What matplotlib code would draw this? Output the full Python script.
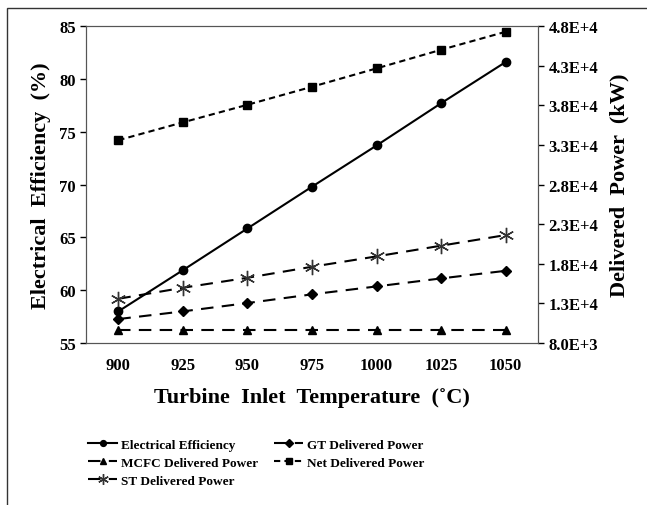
import matplotlib
matplotlib.use('Agg')
import matplotlib.pyplot as plt
from matplotlib.patches import Rectangle

# data
temperature = [900, 925, 950, 975, 1000, 1025, 1050]
electrical_efficiency = [58.0, 61.9, 65.85, 69.8, 73.7, 77.7, 81.6]
gt_power = [11030, 12000, 13050, 14150, 15150, 16160, 17120]
mcfc_power = [9650, 9650, 9650, 9650, 9650, 9650, 9650]
net_power = [33600, 35850, 38070, 40340, 42660, 45010, 47280]
st_power = [13590, 14980, 16240, 17630, 18940, 20290, 21630]

left_ticks = [55, 60, 65, 70, 75, 80, 85]
right_ticks = [8000, 13000, 18000, 23000, 28000, 33000, 38000, 43000, 48000]
right_labels = ['8.0E+3', '1.3E+4', '1.8E+4', '2.3E+4', '2.8E+4',
                '3.3E+4', '3.8E+4', '4.3E+4', '4.8E+4']

plt.rcParams['font.family'] = ['Liberation Serif', 'DejaVu Serif']
plt.rcParams['font.weight'] = 'bold'

fig = plt.figure(figsize=(6.47, 5.06), dpi=100)
ax = fig.add_axes([0.133, 0.320, 0.6985, 0.6265])
ax2 = ax.twinx()

long_dash = (0, (6, 4))
short_dash = (0, (3, 2))

ax.plot(temperature, electrical_efficiency, color='black', lw=1.5,
        marker='o', ms=6, label='Electrical Efficiency')
ax2.plot(temperature, gt_power, color='black', lw=1.5, linestyle=long_dash,
         marker='D', ms=5.5, label='GT Delivered Power')
ax2.plot(temperature, mcfc_power, color='black', lw=1.5, linestyle=long_dash,
         marker='^', ms=6, label='MCFC Delivered Power')
ax2.plot(temperature, net_power, color='black', lw=1.5, linestyle=short_dash,
         marker='s', ms=6, label='Net Delivered Power')
ax2.plot(temperature, st_power, color='black', lw=1.5, linestyle=long_dash,
         marker=(6, 2, 0), ms=11, mew=1, mec='#333333', label='ST Delivered Power')

ax.set_xlim(887.5, 1062.5)
ax.set_ylim(55, 85)
ax2.set_ylim(8000, 48000)
ax.set_xticks(temperature)
ax.set_yticks(left_ticks)
ax2.set_yticks(right_ticks)
ax2.set_yticklabels(right_labels)

for a in (ax, ax2):
    a.tick_params(labelsize=12, direction='out', length=4, width=1)
    for s in a.spines.values():
        s.set_color('#555555')
ax.tick_params(axis='x', length=0, pad=10)

ax.set_ylabel('Electrical  Efficiency  (%)', fontsize=16, fontweight='bold', labelpad=6)
ax2.set_ylabel('Delivered  Power  (kW)', fontsize=16, fontweight='bold', labelpad=8)
ax.set_xlabel('Turbine  Inlet  Temperature  (˚C)', fontsize=16, fontweight='bold', labelpad=10)

handles = [ax.get_lines()[0]] + ax2.get_lines()
order = [0, 2, 4, 1, 3]
fig.legend([handles[i] for i in order], [handles[i].get_label() for i in order],
           loc='upper left', bbox_to_anchor=(0.128, 0.142), ncol=2, frameon=False,
           fontsize=9.5, handlelength=2.2, handletextpad=0.3, columnspacing=1.2,
           labelspacing=0.45, borderaxespad=0, markerscale=0.7)

fig.patches.append(Rectangle((0.011, -0.1), 1.2, 1.082, transform=fig.transFigure,
                             fill=False, edgecolor='#333333', lw=1))

fig.savefig('out.png', dpi=100)
